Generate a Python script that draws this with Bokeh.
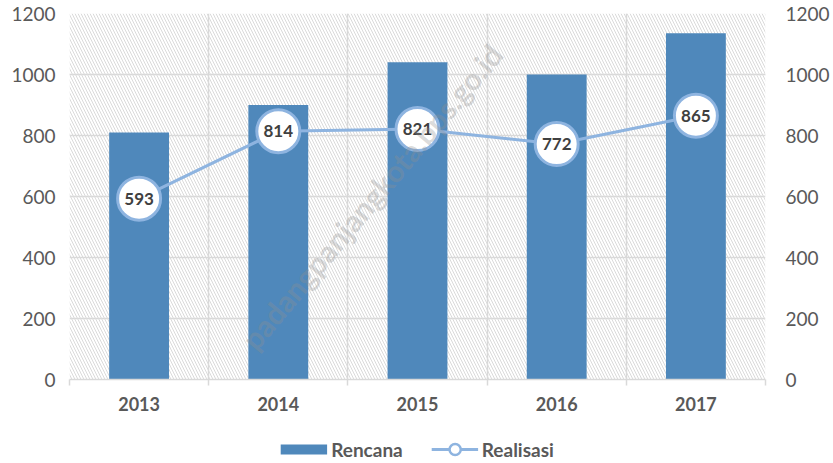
from bokeh.plotting import figure
from bokeh.layouts import column
from bokeh.models import (Range1d, LinearAxis, FixedTicker, BoxAnnotation, Legend,
                          LegendItem, ColumnDataSource, Label)
from bokeh.core.properties import value
from bokeh.embed import file_html
from bokeh.resources import INLINE

years = ["2013", "2014", "2015", "2016", "2017"]
rencana = [810, 900, 1040, 1000, 1135]
realisasi = [593, 814, 821, 772, 865]
y_ticks = [0, 200, 400, 600, 800, 1000, 1200]

xs = list(range(1, len(years) + 1))
src = ColumnDataSource(dict(x=xs, rencana=rencana, realisasi=realisasi,
                            lbl=[str(v) for v in realisasi]))

FONT = "Lato"
GRID = "#d9d9d9"
TXT = "#595959"
BAR = "#4f88bb"
LINE = "#8eb4e0"

p = figure(width=833, height=418, output_backend="svg", toolbar_location=None,
           x_range=Range1d(0.5, len(years) + 0.5), y_range=Range1d(0, 1200),
           min_border_left=69, min_border_right=68, min_border_top=13, min_border_bottom=39)
p.outline_line_color = None
p.background_fill_color = "white"
p.border_fill_color = "white"

# hatched plot area
p.add_layout(BoxAnnotation(fill_color=None, line_color=None, hatch_pattern="\\",
                           hatch_color="#dadada", hatch_scale=6, hatch_weight=1,
                           level="underlay"))

# grid
bounds = [i + 0.5 for i in range(len(years) + 1)]
p.xgrid.ticker = FixedTicker(ticks=bounds)
p.ygrid.ticker = FixedTicker(ticks=y_ticks)
for g in (p.xgrid, p.ygrid):
    g.grid_line_color = GRID
    g.grid_line_width = 1.5

# x axis
xa = p.xaxis[0]
xa.ticker = FixedTicker(ticks=xs, minor_ticks=bounds)
xa.major_label_overrides = {x: y for x, y in zip(xs, years)}
xa.major_tick_line_color = None
xa.major_tick_out = 6
xa.minor_tick_line_color = GRID
xa.minor_tick_line_width = 1.5
xa.minor_tick_in = 0
xa.minor_tick_out = 6
xa.axis_line_color = GRID
xa.axis_line_width = 1.5
xa.major_label_standoff = 11
xa.major_label_text_font = FONT
xa.major_label_text_font_style = "bold"
xa.major_label_text_font_size = "18px"
xa.major_label_text_color = TXT

# y axes
ya = p.yaxis[0]
ya_r = LinearAxis()
p.add_layout(ya_r, "right")
for a, st in ((ya, 14), (ya_r, 20)):
    a.ticker = FixedTicker(ticks=y_ticks)
    a.axis_line_color = None
    a.major_tick_line_color = None
    a.minor_tick_line_color = None
    a.major_tick_out = 0
    a.major_tick_in = 0
    a.major_label_standoff = st
    a.major_label_text_font = FONT
    a.major_label_text_font_size = "19px"
    a.major_label_text_color = TXT

bars = p.vbar(x="x", top="rencana", width=0.43, source=src,
              fill_color=BAR, line_color=None)
line = p.line(x="x", y="realisasi", source=src, line_color=LINE, line_width=3)
dots = p.scatter(x="x", y="realisasi", source=src, size=43, marker="circle",
                 fill_color="white", line_color=LINE, line_width=3)
p.text(x="x", y="realisasi", text="lbl", source=src, text_align="center",
       text_baseline="middle", text_font=value(FONT), text_font_style="bold",
       text_font_size="17px", text_color="#404040")

# watermark (kept fully inside the plot area)
p.add_layout(Label(x=2.67, y=600, text="padangpanjangkota.bps.go.id", angle=50,
                   angle_units="deg", text_align="center", text_baseline="middle",
                   text_font=FONT, text_font_style="bold", text_font_size="30px",
                   text_color="#909090", text_alpha=0.33, level="overlay"))

# legend strip under the chart (key renderers hold no visible data)
nan = [float("nan")]
lg = figure(width=833, height=45, output_backend="svg", toolbar_location=None,
            x_range=Range1d(0, 1), y_range=Range1d(0, 1), min_border=0)
lg.axis.visible = False
lg.grid.visible = False
lg.outline_line_color = None
lg.border_fill_color = "white"
k_bar = lg.line(x=nan, y=nan, line_color=BAR, line_width=10, line_cap="butt")
k_line = lg.line(x=nan, y=nan, line_color=LINE, line_width=3)
k_dot = lg.scatter(x=nan, y=nan, marker="circle", fill_color="white",
                   line_color=LINE, line_width=2.5)
legend = Legend(items=[LegendItem(label=value("Rencana"), renderers=[k_bar]),
                       LegendItem(label=value("Realisasi"), renderers=[k_line, k_dot])],
                orientation="horizontal", location="bottom_center",
                glyph_width=47, glyph_height=28, spacing=28, label_standoff=4,
                label_text_font=FONT, label_text_font_style="bold",
                label_text_font_size="19px", label_text_color=TXT,
                border_line_color=None, background_fill_alpha=0,
                padding=0, margin=0)
lg.add_layout(legend)

open("out.html", "w").write(file_html(column(p, lg, spacing=0), INLINE))
